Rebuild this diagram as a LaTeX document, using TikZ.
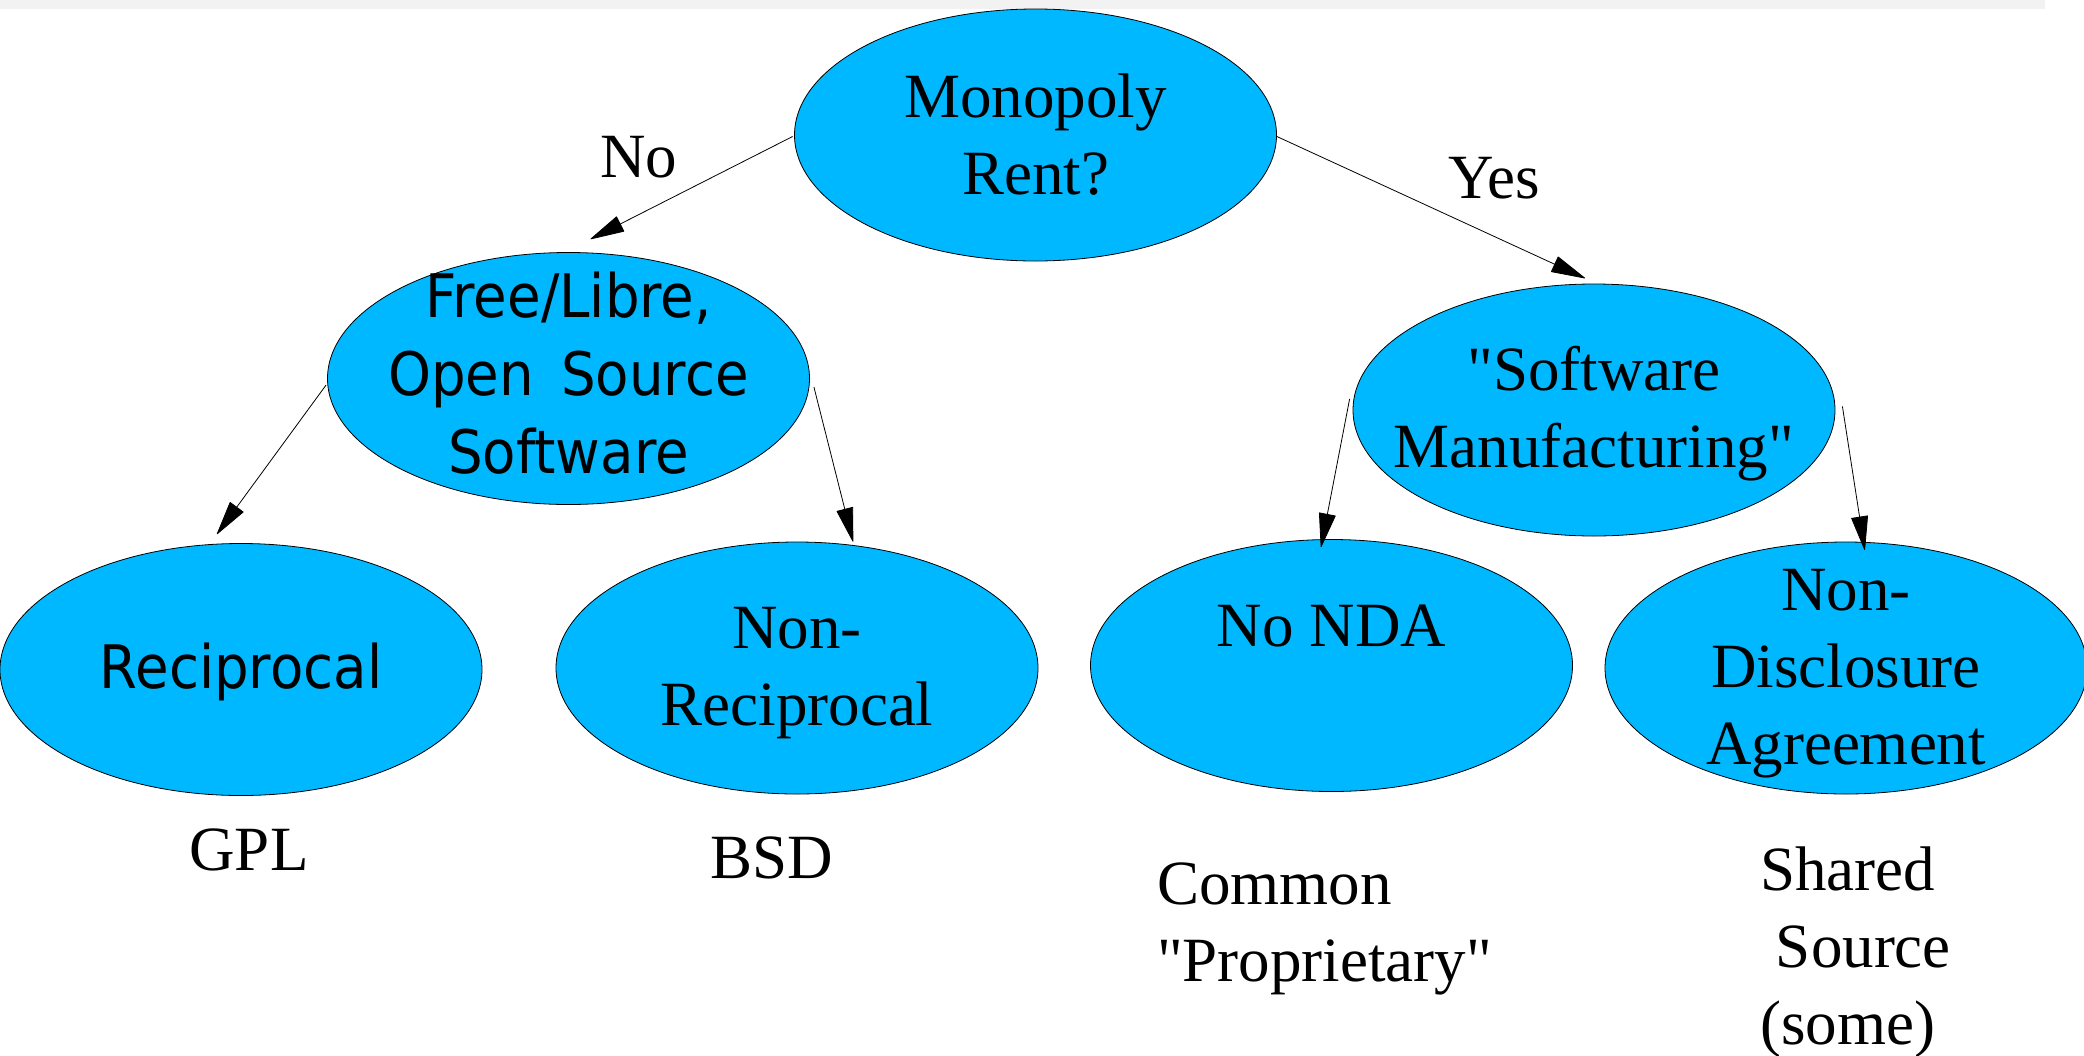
\documentclass[tikz,border=0pt]{standalone}
\usepackage{fontspec}
\setmainfont{Liberation Serif}
\newfontfamily\sansf[FakeStretch=0.91]{DejaVu Sans}
\newcommand\stq{\XeTeXglyph\XeTeXcharglyph"22\relax}
\usetikzlibrary{arrows.meta,calc,shapes.geometric}
\definecolor{nodeblue}{RGB}{0,184,255}
\begin{document}
\begin{tikzpicture}[x=1pt,y=-1pt,
  bub/.style={ellipse, draw=black, line width=0.8pt, fill=nodeblue, minimum width=482pt, minimum height=252pt, inner sep=0pt},
  serif/.style={inner sep=0pt, align=center, font=\fontsize{63}{77}\selectfont},
  sans/.style={inner sep=0pt, align=center, font=\sansf\fontsize{60}{78}\selectfont},
  lbl/.style={inner sep=0pt, font=\fontsize{63}{77}\selectfont},
  conn/.style={-{Triangle[length=35pt,width=17pt,round]}, line width=0.8pt}]
\useasboundingbox (0,0) rectangle (2084,1055);
\clip (0,0) rectangle (2084,1055);
\fill[gray!10] (0,0) rectangle (2045,9);

% ellipses
\node[bub] (mono)   at (1035.5,135) {};
\node[bub] (free)   at (568.5,378.5) {};
\node[bub] (sm)     at (1594,410) {};
\node[bub] (recip)  at (241,669.5) {};
\node[bub] (nrecip) at (797,668) {};
\node[bub] (nonda)  at (1331.5,665.5) {};
\node[bub] (nda)    at (1846,668) {};

% texts inside
\node[serif] (monot)   at (mono) {Monopoly\\Rent?};
\node[sans]  (freet)   at ($(free)+(0,-5)$) {Free/Libre,\\Open\hspace{27pt}Source\\Software};
\node[serif] (smt)     at ($(sm)+(0,4)$) {\stq Software\\Manufacturing\stq};
\node[sans]  (recipt)  at ($(recip)+(0,2)$) {Reciprocal};
\node[serif] (nrecipt) at ($(nrecip)+(0,5)$) {Non-\\Reciprocal};
\node[serif] (nondat)  at ($(nonda)+(0,-39.5)$) {No NDA};
\node[serif] (ndat)    at ($(nda)+(0,6)$) {Non-\\Disclosure\\Agreement};

% labels below
\node[lbl, anchor=base] (gpl) at (249,870) {GPL};
\node[lbl, anchor=base] (bsd) at (771.5,878) {BSD};
\node[lbl, anchor=north west, align=left] (prop) at (1157,863) {Common\\\stq Proprietary\stq};
\node[lbl, anchor=north west, align=left] (shared) at (1760,847) {Shared\\\hspace*{0.25em}Source\\(some)};

% edge labels
\node[lbl, anchor=base] (nolbl) at (638.5,177) {No};
\node[lbl, anchor=base] (yeslbl) at (1494.6,198.5) {Yes};

% connectors
\draw[conn] ($(mono.west)+(-1.5,1.5)$) -- ($(free.north)+(22,-13)$);
\draw[conn] ($(mono.east)+(0,1.5)$) -- ($(sm.north)+(-9,-5.4)$);
\draw[conn] ($(free.west)+(-1,6.5)$) -- ($(recip.north)+(-24,-9)$);
\draw[conn] ($(free.east)+(4,8.5)$) -- ($(nrecip.north)+(56,0)$);
\draw[conn] ($(sm.west)+(-3,-11)$) -- ($(nonda.north)+(-10.5,8)$);
\draw[conn] ($(sm.east)+(7,-3.6)$) -- ($(nda.north)+(18.7,8.4)$);
\end{tikzpicture}
\end{document}
